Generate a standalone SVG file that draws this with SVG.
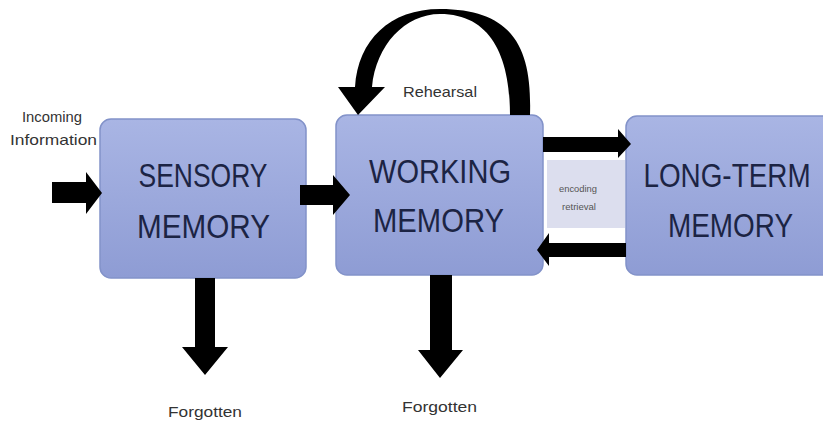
<svg xmlns="http://www.w3.org/2000/svg" width="823" height="426" viewBox="0 0 823 426">
  <defs>
    <linearGradient id="boxFill" x1="0" y1="0" x2="0" y2="1">
      <stop offset="0" stop-color="#a9b5e4"/>
      <stop offset="1" stop-color="#8e9cd4"/>
    </linearGradient>
  </defs>
  <style>
    .box { fill: url(#boxFill); stroke: #8292c9; stroke-width: 1.5; }
    .title { font-family: "Liberation Sans", Arial, sans-serif; font-size: 34px; fill: #1c2444; text-anchor: middle; }
    .label { font-family: "Liberation Sans", Arial, sans-serif; font-size: 15px; fill: #333333; }
    .tiny { font-family: "Liberation Sans", Arial, sans-serif; font-size: 8.5px; fill: #555555; text-anchor: middle; }
    .arrow { fill: #000000; }
  </style>
  <rect width="823" height="426" fill="#ffffff"/>

  <!-- encoding / retrieval band between working and long-term memory -->
  <g id="transfer-band">
    <rect x="547" y="160" width="78" height="68" fill="#dcdeee"/>
    <text class="tiny" x="578" y="192" textLength="38" lengthAdjust="spacingAndGlyphs">encoding</text>
    <text class="tiny" x="579" y="210" textLength="34" lengthAdjust="spacingAndGlyphs">retrieval</text>
  </g>

  <g id="sensory-memory">
    <rect class="box" x="100" y="119" width="206" height="159" rx="11"/>
    <text class="title" x="203" y="187" textLength="129" lengthAdjust="spacingAndGlyphs">SENSORY</text>
    <text class="title" x="203.5" y="238" textLength="133" lengthAdjust="spacingAndGlyphs">MEMORY</text>
  </g>

  <g id="working-memory">
    <rect class="box" x="336" y="115" width="207" height="160" rx="11"/>
    <text class="title" x="440" y="183" textLength="142" lengthAdjust="spacingAndGlyphs">WORKING</text>
    <text class="title" x="438.5" y="232" textLength="131" lengthAdjust="spacingAndGlyphs">MEMORY</text>
  </g>

  <g id="long-term-memory">
    <rect class="box" x="626" y="116" width="215" height="159" rx="11"/>
    <!-- horizontally condensed heading so it stays inside the frame -->
    <text class="title" transform="translate(727,187) scale(0.82,1)" x="0" y="0">LONG-TERM</text>
    <text class="title" x="730.5" y="237" textLength="125" lengthAdjust="spacingAndGlyphs">MEMORY</text>
  </g>

  <g id="connectors">
    <!-- incoming information -->
    <path class="arrow" d="M52,182 H86 V172 L102,193 L86,214 V203 H52 Z"/>
    <!-- sensory to working -->
    <path class="arrow" d="M300,185 H333 V175 L350,195 L333,215 V205 H300 Z"/>
    <!-- encoding -->
    <path class="arrow" d="M543,137 H618 V129 L631,144 L618,158 V152 H543 Z"/>
    <!-- retrieval -->
    <path class="arrow" d="M626,243 H549 V233 L537,250 L549,266 V257 H626 Z"/>
    <!-- decay from sensory memory -->
    <path class="arrow" d="M195,278 V347 H182 L205,375 L228,347 H215 V278 Z"/>
    <!-- decay from working memory -->
    <path class="arrow" d="M430,275 V350 H418 L440,378 L463,350 H452 V275 Z"/>
    <!-- rehearsal loop -->
    <path class="arrow" d="M530,115 C532,50 515,9 440,9 C390,9 358,40 355,87 L338,87 L358,115 L385,87 L372,87 C376,45 405,14 440,14 C490,14 510,55 510,115 Z"/>
  </g>

  <g id="labels">
    <text class="label" x="52" y="122" text-anchor="middle" textLength="60" lengthAdjust="spacingAndGlyphs">Incoming</text>
    <text class="label" x="10" y="145" textLength="87" lengthAdjust="spacingAndGlyphs">Information</text>
    <text class="label" x="403" y="97" textLength="74" lengthAdjust="spacingAndGlyphs">Rehearsal</text>
    <text class="label" x="168" y="417" textLength="74" lengthAdjust="spacingAndGlyphs">Forgotten</text>
    <text class="label" x="402" y="412" textLength="75" lengthAdjust="spacingAndGlyphs">Forgotten</text>
  </g>
</svg>
